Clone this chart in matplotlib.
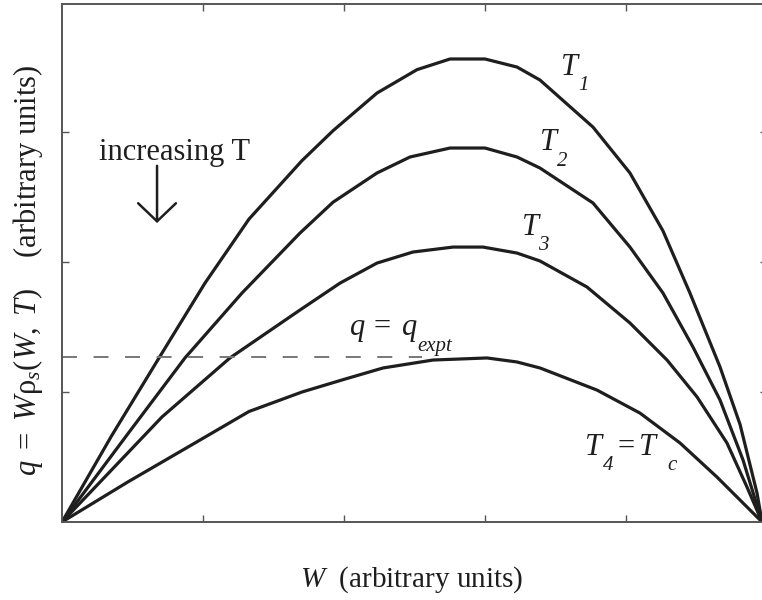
import matplotlib
matplotlib.use("Agg")
import matplotlib.pyplot as plt

plt.rcParams['font.family'] = ['Liberation Serif', 'DejaVu Serif']
plt.rcParams['mathtext.fontset'] = 'custom'
plt.rcParams['mathtext.rm'] = 'Liberation Serif'
plt.rcParams['mathtext.it'] = 'Liberation Serif:italic'
plt.rcParams['lines.scale_dashes'] = False

# curves (W, q)
w_t1 = [0, 0.35, 0.688, 1.014, 1.326, 1.702, 1.922, 2.234, 2.518, 2.752, 3.0,
        3.227, 3.39, 3.766, 4.028, 4.262, 4.454, 4.667, 4.809, 4.929, 4.965]
q_t1 = [0, 0.66, 1.262, 1.838, 2.33, 2.78, 3.01, 3.30, 3.48, 3.562, 3.562,
        3.5, 3.40, 3.038, 2.685, 2.24, 1.76, 1.192, 0.75, 0.223, 0]

w_t2 = [0, 0.475, 0.872, 1.277, 1.688, 1.922, 2.234, 2.468, 2.752, 3.0,
        3.227, 3.39, 3.766, 4.028, 4.262, 4.475, 4.667, 4.83, 4.965]
q_t2 = [0, 0.69, 1.262, 1.762, 2.223, 2.46, 2.685, 2.808, 2.877, 2.877,
        2.808, 2.723, 2.454, 2.115, 1.762, 1.346, 0.938, 0.477, 0]

w_t3 = [0, 0.709, 1.191, 1.688, 1.972, 2.234, 2.489, 2.773, 2.986,
        3.227, 3.39, 3.723, 4.028, 4.291, 4.504, 4.716, 4.858, 4.965]
q_t3 = [0, 0.808, 1.262, 1.631, 1.838, 1.992, 2.077, 2.115, 2.115,
        2.069, 2.008, 1.808, 1.531, 1.246, 0.962, 0.608, 0.269, 0]

w_t4 = [0, 0.47, 0.943, 1.326, 1.702, 1.993, 2.277, 2.631, 3.014,
        3.227, 3.39, 3.794, 4.099, 4.383, 4.645, 4.83, 4.965]
q_t4 = [0, 0.31, 0.608, 0.85, 1.0, 1.095, 1.185, 1.246, 1.262,
        1.231, 1.185, 1.015, 0.838, 0.608, 0.346, 0.146, 0]

q_expt = 1.27
w_expt_end = 2.55

curves = [(w_t1, q_t1), (w_t2, q_t2), (w_t3, q_t3), (w_t4, q_t4)]

ink = '#1e1e1e'

fig = plt.figure(figsize=(7.62, 6.0), dpi=100)
ax = fig.add_axes([62 / 762, 78 / 600, 705 / 762, 518 / 600])

for w, q in curves:
    ax.plot(w, q, color=ink, lw=2.3)

ax.plot([0, w_expt_end], [q_expt, q_expt], color='#777777', lw=1.4,
        dashes=(10.8, 11.9))

ax.set_xlim(0, 5)
ax.set_ylim(0, 3.985)
ax.set_xticks([1, 2, 3, 4])
ax.set_yticks([1, 2, 3])
ax.tick_params(direction='in', length=5, width=1, color='#555555',
               top=True, right=True, labelbottom=False, labelleft=False)
for s in ax.spines.values():
    s.set_color('#555555')
    s.set_linewidth(1.4)


def label(x, y, parts):
    # parts: (text, dx, dy, size) offsets in points from (x, y) baseline
    for txt, dx, dy, size in parts:
        ax.annotate(txt, (x, y), xytext=(dx, dy), textcoords='offset points',
                    fontsize=size, style='italic', color=ink,
                    ha='left', va='baseline')


big, small = 22, 15
label(3.54, 3.44, [('T', 0, 0, big), ('1', 12, -11, small)])
label(3.39, 2.86, [('T', 0, 0, big), ('2', 12, -11, small)])
label(3.26, 2.21, [('T', 0, 0, big), ('3', 12, -11, small)])
label(2.04, 1.44, [('q', 0, 0, big), ('=', 16, 0, big), ('q', 38, 0, big),
                   ('expt', 49, -11.5, small)])
label(3.71, 0.515, [('T', 0, 0, big), ('4', 12.5, -11, small), ('=', 22, 0, big),
                    ('T', 38.5, 0, big), ('c', 59.5, -11, small)])

ax.text(0.262, 2.785, 'increasing T', fontsize=22, color=ink)
ax.annotate('', xy=(0.674, 2.30), xytext=(0.674, 2.74),
            arrowprops=dict(arrowstyle='->,head_length=0.65,head_width=0.68',
                            lw=1.8, color=ink, mutation_scale=20,
                            shrinkA=0, shrinkB=0))

fig.text(412 / 762, 1 - 580 / 600, r'$W$  (arbitrary units)', fontsize=21,
         ha='center', va='center', color=ink)
fig.text(28 / 762, 1 - 270 / 600,
         r'$q\ =\ W\mathrm{\rho}_s(W,\ T)$    (arbitrary units)', fontsize=22,
         ha='center', va='center', rotation=90, color=ink)

fig.savefig('out.png', dpi=100)
